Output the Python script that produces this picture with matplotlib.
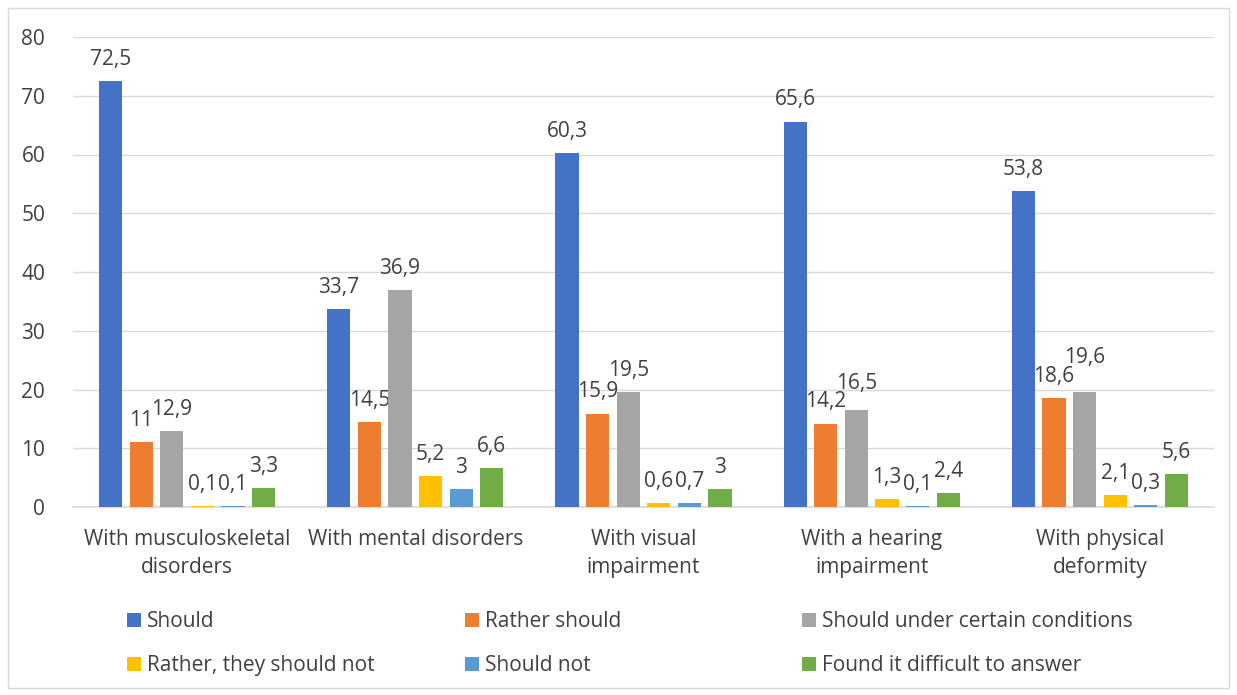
import matplotlib.pyplot as plt
import numpy as np
from matplotlib.patches import Rectangle

plt.rcParams['font.family'] = ['Open Sans', 'DejaVu Sans']

categories = ["With musculoskeletal\ndisorders", "With mental disorders",
              "With visual\nimpairment", "With a hearing\nimpairment",
              "With physical\ndeformity"]
series_names = ["Should", "Rather should", "Should under certain conditions",
                "Rather, they should not", "Should not", "Found it difficult to answer"]
should = [72.5, 33.7, 60.3, 65.6, 53.8]
rather_should = [11, 14.5, 15.9, 14.2, 18.6]
under_conditions = [12.9, 36.9, 19.5, 16.5, 19.6]
rather_not = [0.1, 5.2, 0.6, 1.3, 2.1]
should_not = [0.1, 3, 0.7, 0.1, 0.3]
difficult = [3.3, 6.6, 3, 2.4, 5.6]
colors = ["#4472c4", "#ed7d31", "#a5a5a5", "#ffc000", "#5b9bd5", "#70ad47"]

text_color = "#404040"
grid_color = "#d9d9d9"
fs = 15
pad = 8

fig = plt.figure(figsize=(12.37, 6.95), dpi=100)
ax = fig.add_axes([73 / 1237, 1 - 507 / 695, (1214 - 73) / 1237, (507 - 37) / 695])

# outer chart border
fig.patches.append(Rectangle((8 / 1237, 1 - 688 / 695), 1221 / 1237, 680 / 695,
                             transform=fig.transFigure, fill=False,
                             edgecolor=grid_color, linewidth=1))

x = np.arange(len(categories))
step = 0.134
width = 0.102
all_series = [should, rather_should, under_conditions, rather_not, should_not, difficult]
handles = []
value_labels = []
for i, (vals, name, c) in enumerate(zip(all_series, series_names, colors)):
    bars = ax.bar(x + (i - 2.5) * step, vals, width, color=c, label=name, zorder=3)
    texts = ax.bar_label(bars, labels=[f"{v:g}".replace('.', ',') for v in vals],
                         padding=pad, fontsize=fs, color=text_color)
    handles.append(bars)
    value_labels.append(texts)

ax.set_xlim(-0.5, len(categories) - 0.5)
ax.set_ylim(0, 80)
ax.set_yticks(range(0, 81, 10))
ax.set_xticks(x)
ax.set_xticklabels(categories, fontsize=fs, color=text_color, linespacing=1.4)
ax.tick_params(axis='both', length=0, labelsize=fs, labelcolor=text_color)
ax.tick_params(axis='y', pad=20)
ax.tick_params(axis='x', pad=16)
ax.grid(axis='y', color=grid_color, linewidth=1, zorder=0)
for s in ['top', 'right', 'left']:
    ax.spines[s].set_visible(False)
ax.spines['bottom'].set_color(grid_color)
ax.spines['bottom'].set_linewidth(1.2)

# lift a value label when it collides with its left neighbour
fig.canvas.draw()
renderer = fig.canvas.get_renderer()
for j in range(len(categories)):
    for i in range(1, len(all_series)):
        left, right = value_labels[i - 1][j], value_labels[i][j]
        bl = left.get_window_extent(renderer)
        br = right.get_window_extent(renderer)
        if bl.overlaps(br) and bl.x1 - br.x0 > 2 and all_series[i][j] > all_series[i - 1][j]:
            dy = (bl.y1 - br.y0) * 72 / fig.dpi
            right.xyann = (0, pad + dy - 2)

# legend in three columns, two rows each
col_x = [127, 465, 802]
for k in range(3):
    hs = [handles[k], handles[k + 3]]
    fig.legend(hs, [series_names[k], series_names[k + 3]],
               loc='upper left', bbox_to_anchor=(col_x[k] / 1237, 1 - 611 / 695),
               frameon=False, fontsize=fs, labelcolor=text_color,
               handlelength=0.67, handleheight=0.67, handletextpad=0.3,
               labelspacing=1.1, borderaxespad=0, borderpad=0)

fig.savefig("out.png", dpi=100)
